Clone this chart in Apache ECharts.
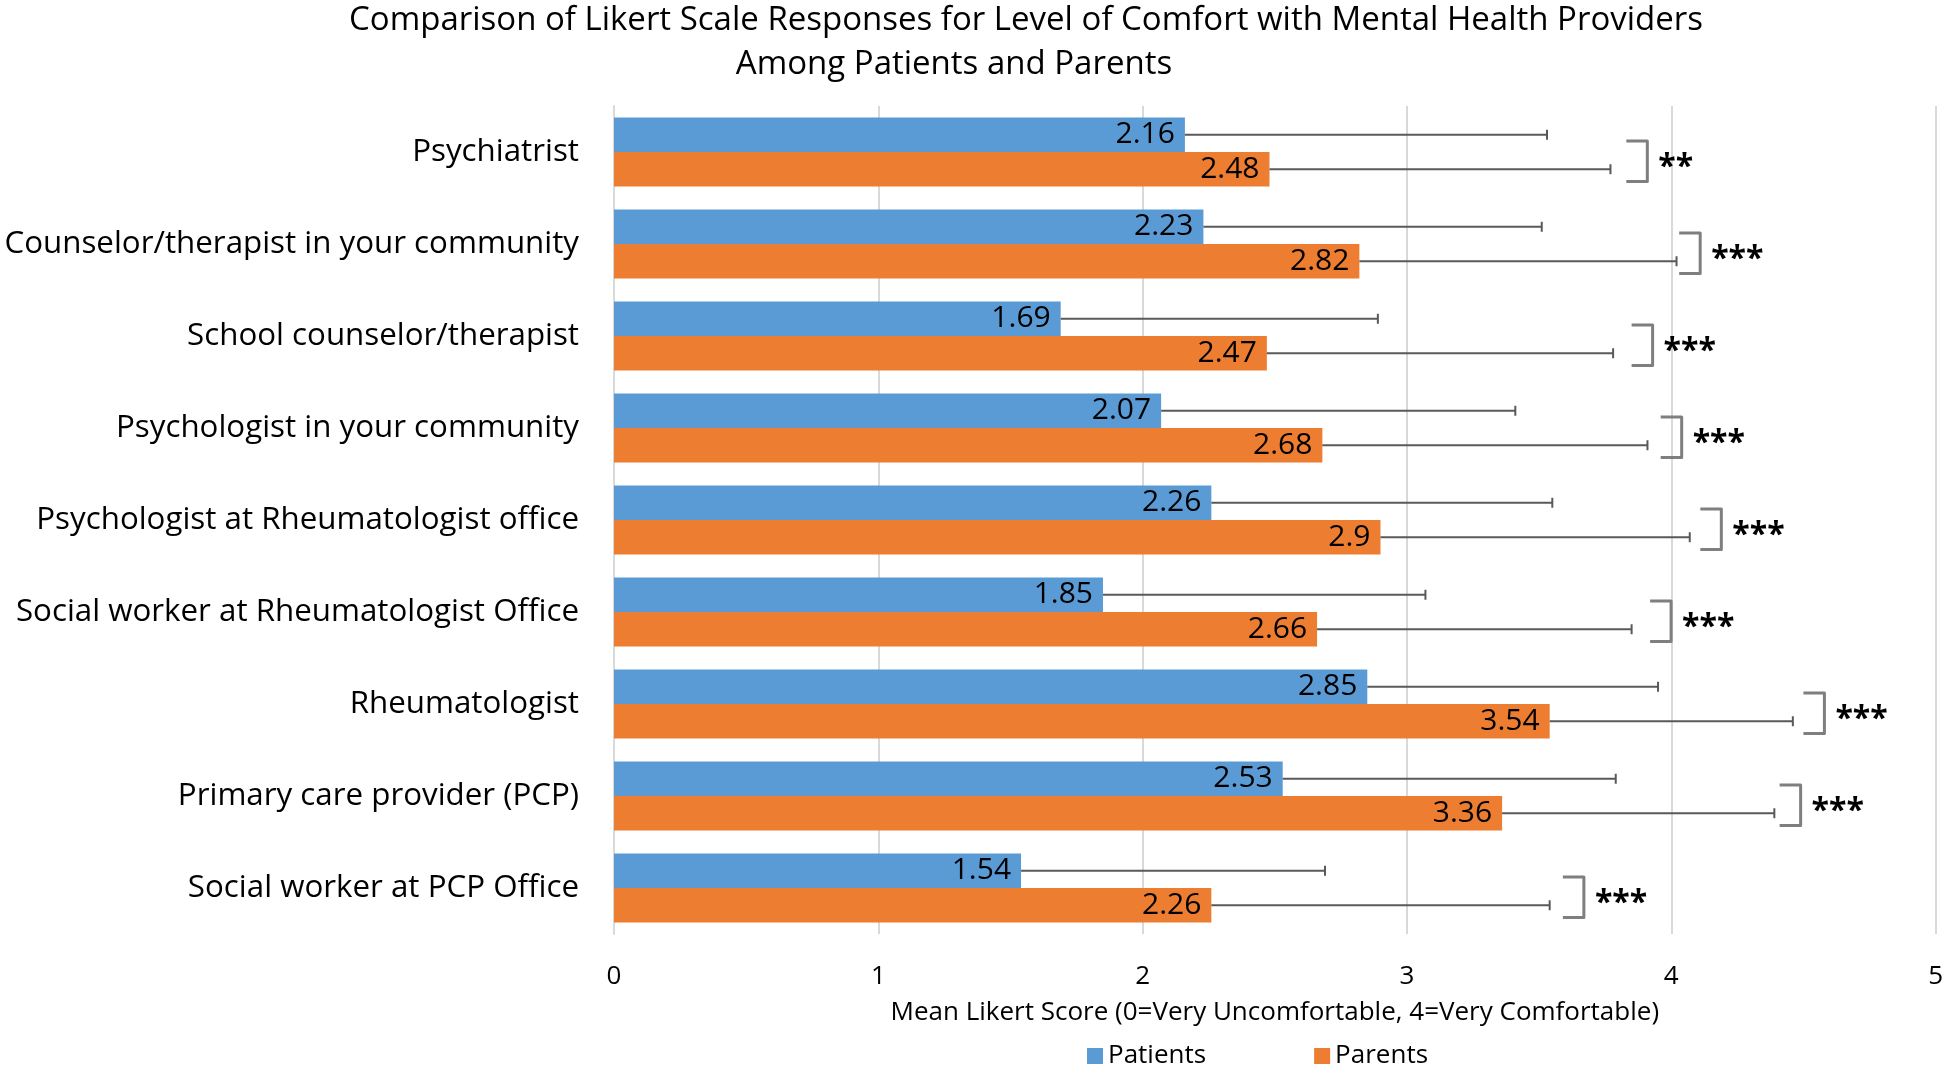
<!DOCTYPE html>
<html>
<head>
<meta charset="utf-8">
<script src="https://cdn.jsdelivr.net/npm/echarts@6/dist/echarts.min.js"></script>
<style>
  html, body { margin: 0; padding: 0; background: #ffffff; }
  #chart { width: 1946px; height: 1066px; }
</style>
</head>
<body>
<div id="chart"></div>
<script>
// ---- Data ----
var categories = [
  'Psychiatrist',
  'Counselor/therapist in your community',
  'School counselor/therapist',
  'Psychologist in your community',
  'Psychologist at Rheumatologist office',
  'Social worker at Rheumatologist Office',
  'Rheumatologist',
  'Primary care provider (PCP)',
  'Social worker at PCP Office'
];
var patientsMean = [2.16, 2.23, 1.69, 2.07, 2.26, 1.85, 2.85, 2.53, 1.54];
var parentsMean  = [2.48, 2.82, 2.47, 2.68, 2.9, 2.66, 3.54, 3.36, 2.26];
var patientsSD   = [1.37, 1.28, 1.20, 1.34, 1.29, 1.22, 1.10, 1.26, 1.15];
var parentsSD    = [1.29, 1.20, 1.31, 1.23, 1.17, 1.19, 0.92, 1.03, 1.28];
var significance = ['**', '***', '***', '***', '***', '***', '***', '***', '***'];
var bracketAt    = [3.83, 4.03, 3.85, 3.96, 4.11, 3.92, 4.50, 4.41, 3.59];
var xTicks = [0, 1, 2, 3, 4, 5];
var titleLine1 = 'Comparison of Likert Scale Responses for Level of Comfort with Mental Health Providers';
var titleLine2 = 'Among Patients and Parents';
var xAxisName = 'Mean Likert Score (0=Very Uncomfortable, 4=Very Comfortable)';
var seriesNames = ['Patients', 'Parents'];

// ---- Build chart ----
var FONT = '"Open Sans", Lato, sans-serif';
var chart = echarts.init(document.getElementById('chart'));

function errData(means, sds) {
  return means.map(function (m, i) { return [i, m, m + sds[i]]; });
}
function errRender(sign) {
  return function (params, api) {
    var i = api.value(0);
    var p0 = api.coord([api.value(1), i]);
    var p1 = api.coord([api.value(2), i]);
    var band = api.size([0, 1])[1];
    var bw = band * 0.75 / 2;
    var y = p0[1] + sign * bw / 2;
    var cap = 5;
    var st = { stroke: '#595959', lineWidth: 2 };
    return {
      type: 'group',
      children: [
        { type: 'line', shape: { x1: p0[0], y1: y, x2: p1[0], y2: y }, style: st },
        { type: 'line', shape: { x1: p1[0], y1: y - cap, x2: p1[0], y2: y + cap }, style: st }
      ]
    };
  };
}
var bracketData = bracketAt.map(function (b, i) { return [i, b]; });
function bracketRender(params, api) {
  var i = api.value(0);
  var p = api.coord([api.value(1), i]);
  var band = api.size([0, 1])[1];
  var top = p[1] - band * 0.12;
  var bottom = p[1] + band * 0.32;
  var w = 21;
  var x = p[0];
  return {
    type: 'group',
    children: [
      {
        type: 'polyline',
        shape: { points: [[x, top], [x + w, top], [x + w, bottom], [x, bottom]] },
        style: { stroke: '#7f7f7f', lineWidth: 3, fill: null, lineJoin: 'round' }
      },
      {
        type: 'text',
        style: {
          text: significance[i],
          x: x + w + 11,
          y: (top + bottom) / 2 + 7,
          align: 'left',
          verticalAlign: 'middle',
          fontSize: 32,
          fontWeight: 'bold',
          fontFamily: FONT,
          fill: '#000000'
        }
      }
    ]
  };
}

var labelCfg = {
  show: true,
  position: 'insideRight',
  distance: 10,
  fontSize: 30,
  fontFamily: FONT,
  color: '#000000'
};

chart.setOption({
  backgroundColor: '#ffffff',
  animation: false,
  textStyle: { fontFamily: FONT },
  title: [
    { text: titleLine1, left: 1021, top: -1, textAlign: 'center',
      textStyle: { fontSize: 33, fontWeight: 'normal', color: '#000', fontFamily: FONT } },
    { text: titleLine2, left: 949, top: 43, textAlign: 'center',
      textStyle: { fontSize: 33, fontWeight: 'normal', color: '#000', fontFamily: FONT } }
  ],
  legend: {
    data: seriesNames,
    left: 1082,
    top: 1038,
    itemWidth: 16,
    itemHeight: 16,
    itemGap: 108,
    icon: 'rect',
    textStyle: { fontSize: 26, color: '#000', fontFamily: FONT }
  },
  grid: { left: 614, right: 10, top: 106, bottom: 132, containLabel: false },
  xAxis: {
    type: 'value',
    min: xTicks[0],
    max: xTicks[xTicks.length - 1],
    interval: 1,
    name: xAxisName,
    nameLocation: 'middle',
    nameGap: 66,
    nameTextStyle: { fontSize: 26, color: '#000', fontFamily: FONT },
    axisLine: { show: false },
    axisTick: { show: false },
    axisLabel: { fontSize: 26, color: '#000', margin: 30, fontFamily: FONT },
    splitLine: { show: true, lineStyle: { color: '#d9d9d9', width: 2 } }
  },
  yAxis: {
    type: 'category',
    inverse: true,
    data: categories,
    axisLine: { show: true, lineStyle: { color: '#d9d9d9', width: 2 } },
    axisTick: { show: false },
    axisLabel: { fontSize: 31.3, color: '#000', margin: 35, fontFamily: FONT }
  },
  series: [
    {
      name: seriesNames[0], type: 'bar', data: patientsMean,
      barGap: '0%', barCategoryGap: '25%',
      itemStyle: { color: '#5B9BD5' },
      label: labelCfg
    },
    {
      name: seriesNames[1], type: 'bar', data: parentsMean,
      barGap: '0%', barCategoryGap: '25%',
      itemStyle: { color: '#ED7D31' },
      label: labelCfg
    },
    {
      name: 'PatientsErr', type: 'custom', data: errData(patientsMean, patientsSD),
      renderItem: errRender(-1), encode: { x: [1, 2], y: 0 }, z: 5
    },
    {
      name: 'ParentsErr', type: 'custom', data: errData(parentsMean, parentsSD),
      renderItem: errRender(1), encode: { x: [1, 2], y: 0 }, z: 5
    },
    {
      name: 'Significance', type: 'custom', data: bracketData,
      renderItem: bracketRender, encode: { x: 1, y: 0 }, z: 6
    }
  ]
});
</script>
</body>
</html>
